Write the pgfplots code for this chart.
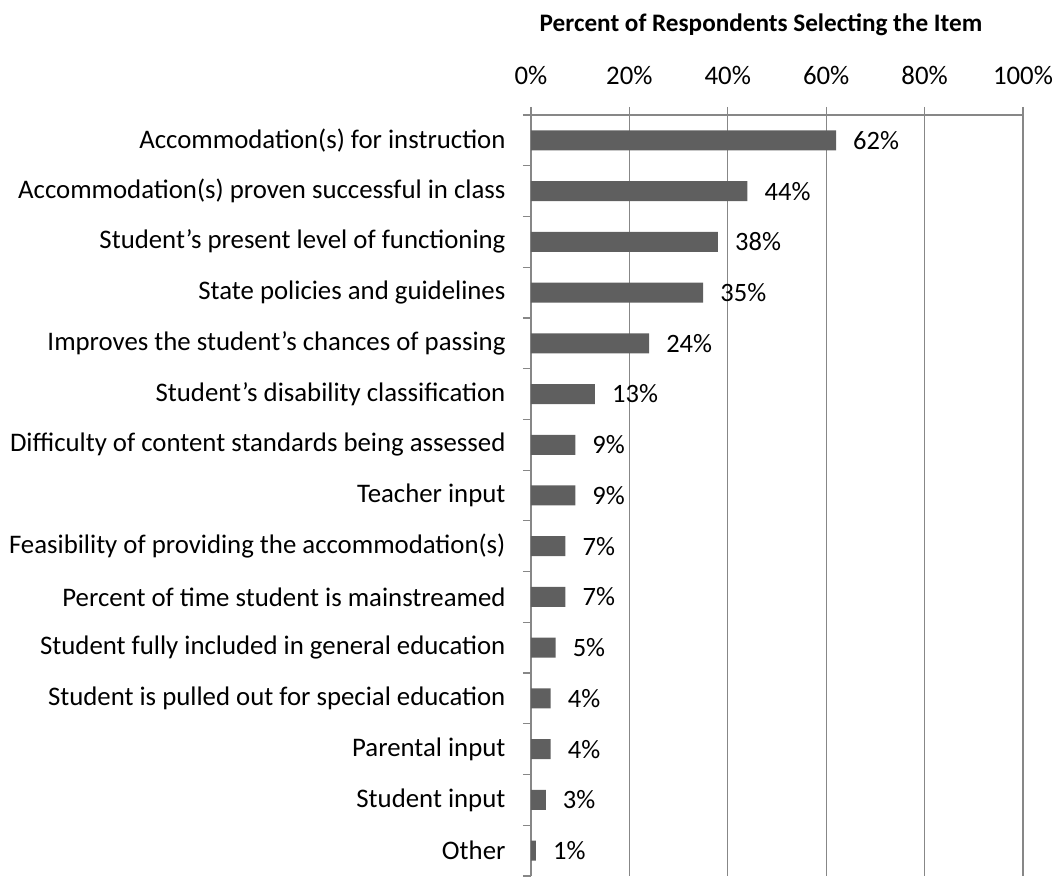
\documentclass[border=0pt]{standalone}
\usepackage{pgfplots}
\pgfplotsset{compat=1.18}
\usepackage{fontspec}
\setmainfont{Carlito}
\definecolor{barc}{HTML}{5F5F5F}
\definecolor{gridc}{HTML}{878787}
\begin{document}
\begin{tikzpicture}
\begin{axis}[
  at={(0,0)}, anchor=south west,
  scale only axis, width=492pt, height=761pt,
  xmin=0, xmax=100, ymin=-0.5, ymax=14.5,
  xbar, bar width=20pt,
  axis x line*=top, axis y line*=left,
  axis line style={gridc, line width=1.2pt},
  xtick={0,20,40,60,80,100},
  xticklabels={0\%,20\%,40\%,60\%,80\%,100\%},
  xmajorgrids, grid style={gridc, line width=1.2pt},
  tick align=outside,
  major tick length=8pt, minor tick length=8pt,
  tick style={gridc, line width=1.2pt},
  every major y tick/.append style={draw=none},
  ytick={0,...,14},
  minor ytick={-0.5,0.5,...,14.5},
  yticklabels={Other,Student input,Parental input,Student is pulled out for special education,Student fully included in general education,Percent of time student is mainstreamed,Feasibility of providing the accommodation(s),Teacher input,Difficulty of content standards being assessed,Student’s disability classification,Improves the student’s chances of passing,State policies and guidelines,Student’s present level of functioning,Accommodation(s) proven successful in class,Accommodation(s) for instruction},
  every tick label/.append style={font=\fontsize{26.8}{31}\selectfont, text=black},
  yticklabel style={xshift=-14pt},
  xticklabel style={yshift=19pt},
  /pgf/number format/assume math mode=true,
  nodes near coords={\pgfmathprintnumber{\pgfplotspointmeta}\%},
  every node near coord/.append style={anchor=west, inner sep=0pt, xshift=17pt, font=\fontsize{26.5}{30}\selectfont, text=black},
  clip=false,
]
\addplot[fill=barc, draw=none] coordinates {
  (1,0) (3,1) (4,2) (4,3) (5,4) (7,5) (7,6) (9,7) (9,8) (13,9) (24,10) (35,11) (38,12) (44,13) (62,14)
};
\end{axis}
\node[font=\bfseries\fontsize{25.2}{30}\selectfont] at (230pt,851pt) {Percent of Respondents Selecting the Item};
\pgfresetboundingbox
\path (-531pt,-1pt) rectangle (524pt,876pt);
\end{tikzpicture}
\end{document}
